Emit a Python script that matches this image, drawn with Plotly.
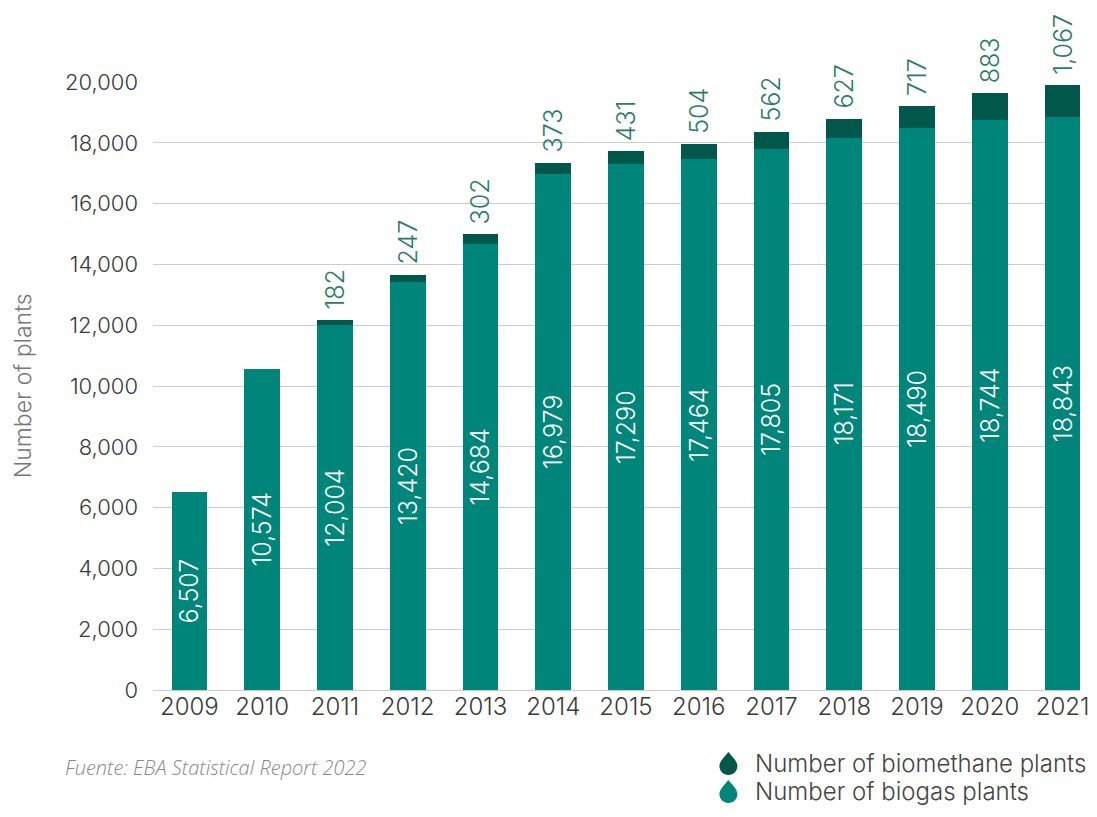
import plotly.graph_objects as go

years = ["2009", "2010", "2011", "2012", "2013", "2014", "2015", "2016", "2017", "2018", "2019", "2020", "2021"]
biogas = [6507, 10574, 12004, 13420, 14684, 16979, 17290, 17464, 17805, 18171, 18490, 18744, 18843]
biomethane = [None, None, 182, 247, 302, 373, 431, 504, 562, 627, 717, 883, 1067]
y_ticks = [0, 2000, 4000, 6000, 8000, 10000, 12000, 14000, 16000, 18000, 20000]
legend_labels = ["Number of biomethane plants", "Number of biogas plants"]

C_BIOGAS = "#00857B"
C_BIOMETHANE = "#01584A"
C_LABEL = "#2C7A68"
FONT = "Inter"

fig = go.Figure()
fig.add_trace(go.Bar(
    x=years, y=biogas, name=legend_labels[1],
    marker=dict(color=C_BIOGAS, line=dict(width=0)),
    text=[f"{v:,}" for v in biogas], textposition="inside",
    insidetextanchor="middle", textangle=-90, constraintext="none",
    textfont=dict(family=FONT, size=25, color="white", weight=300),
    showlegend=False, cliponaxis=False,
))
fig.add_trace(go.Bar(
    x=years, y=biomethane, name=legend_labels[0],
    marker=dict(color=C_BIOMETHANE, line=dict(width=0)),
    text=[("\u00a0" + f"{v:,}") if v else "" for v in biomethane], textposition="outside",
    textangle=-90, constraintext="none",
    textfont=dict(family=FONT, size=25, color=C_LABEL, weight=300),
    showlegend=False, cliponaxis=False,
))

# the page body adds an 8px margin; size the figure so the page is exactly 1097x817
W, H = 1081, 801
L, R, T = 145, 0, 74
ph = 608
B = H - T - ph
pw = W - L - R
X0, Y0 = 8 + L, 8 + T + ph  # screen pixel of plot left / bottom


def px_x(x):
    return (x - X0) / pw


def px_y(y):
    return (Y0 - y) / ph


DROP = "M 0 12 C 3 8 9 3 9 -2 C 9 -7 5 -11 0 -11 C -5 -11 -9 -7 -9 -2 C -9 3 -3 8 0 12 Z"

shapes = []
annotations = [
    dict(text="Number of plants", xref="paper", yref="paper",
         x=px_x(22), y=px_y(386), textangle=-90, showarrow=False,
         xanchor="center", yanchor="middle",
         font=dict(size=23, color="#777777", family=FONT, weight=300)),
    dict(text="<i>Fuente: EBA Statistical Report 2022</i>", xref="paper", yref="paper",
         x=px_x(62), y=px_y(767), showarrow=False,
         xanchor="left", yanchor="middle",
         font=dict(size=20, color="#888888", family="Open Sans")),
]
for label, color, yy in [(legend_labels[0], C_BIOMETHANE, 763), (legend_labels[1], C_BIOGAS, 791)]:
    shapes.append(dict(type="path", xref="paper", yref="paper",
                       xsizemode="pixel", ysizemode="pixel",
                       xanchor=px_x(734), yanchor=px_y(yy + 1), path=DROP,
                       fillcolor=color, line=dict(width=0)))
    annotations.append(dict(text=label, xref="paper", yref="paper",
                            x=px_x(759), y=px_y(yy), showarrow=False,
                            xanchor="left", yanchor="middle",
                            font=dict(size=24, color="#444444", family=FONT, weight=300)))

fig.update_layout(
    width=W, height=H,
    margin=dict(l=L, r=R, t=T, b=B),
    barmode="stack", bargap=0.51, showlegend=False,
    plot_bgcolor="white", paper_bgcolor="white",
    font=dict(family=FONT, color="#444444", weight=300),
    xaxis=dict(range=[-0.5, 12.24], showgrid=False, showline=False, ticks="",
               tickfont=dict(size=24, color="#3a3a3a", family=FONT, weight=300)),
    yaxis=dict(range=[0, 20000], tickvals=y_ticks, ticktext=[f"{v:,}" for v in y_ticks],
               showgrid=True, gridcolor="#cccccc", gridwidth=1, zeroline=True,
               zerolinecolor="#cccccc", zerolinewidth=1, ticks="", ticklabelstandoff=14,
               tickfont=dict(size=22, color="#3a3a3a", family=FONT, weight=300)),
    shapes=shapes,
    annotations=annotations,
)

fig.write_html("out.html")
